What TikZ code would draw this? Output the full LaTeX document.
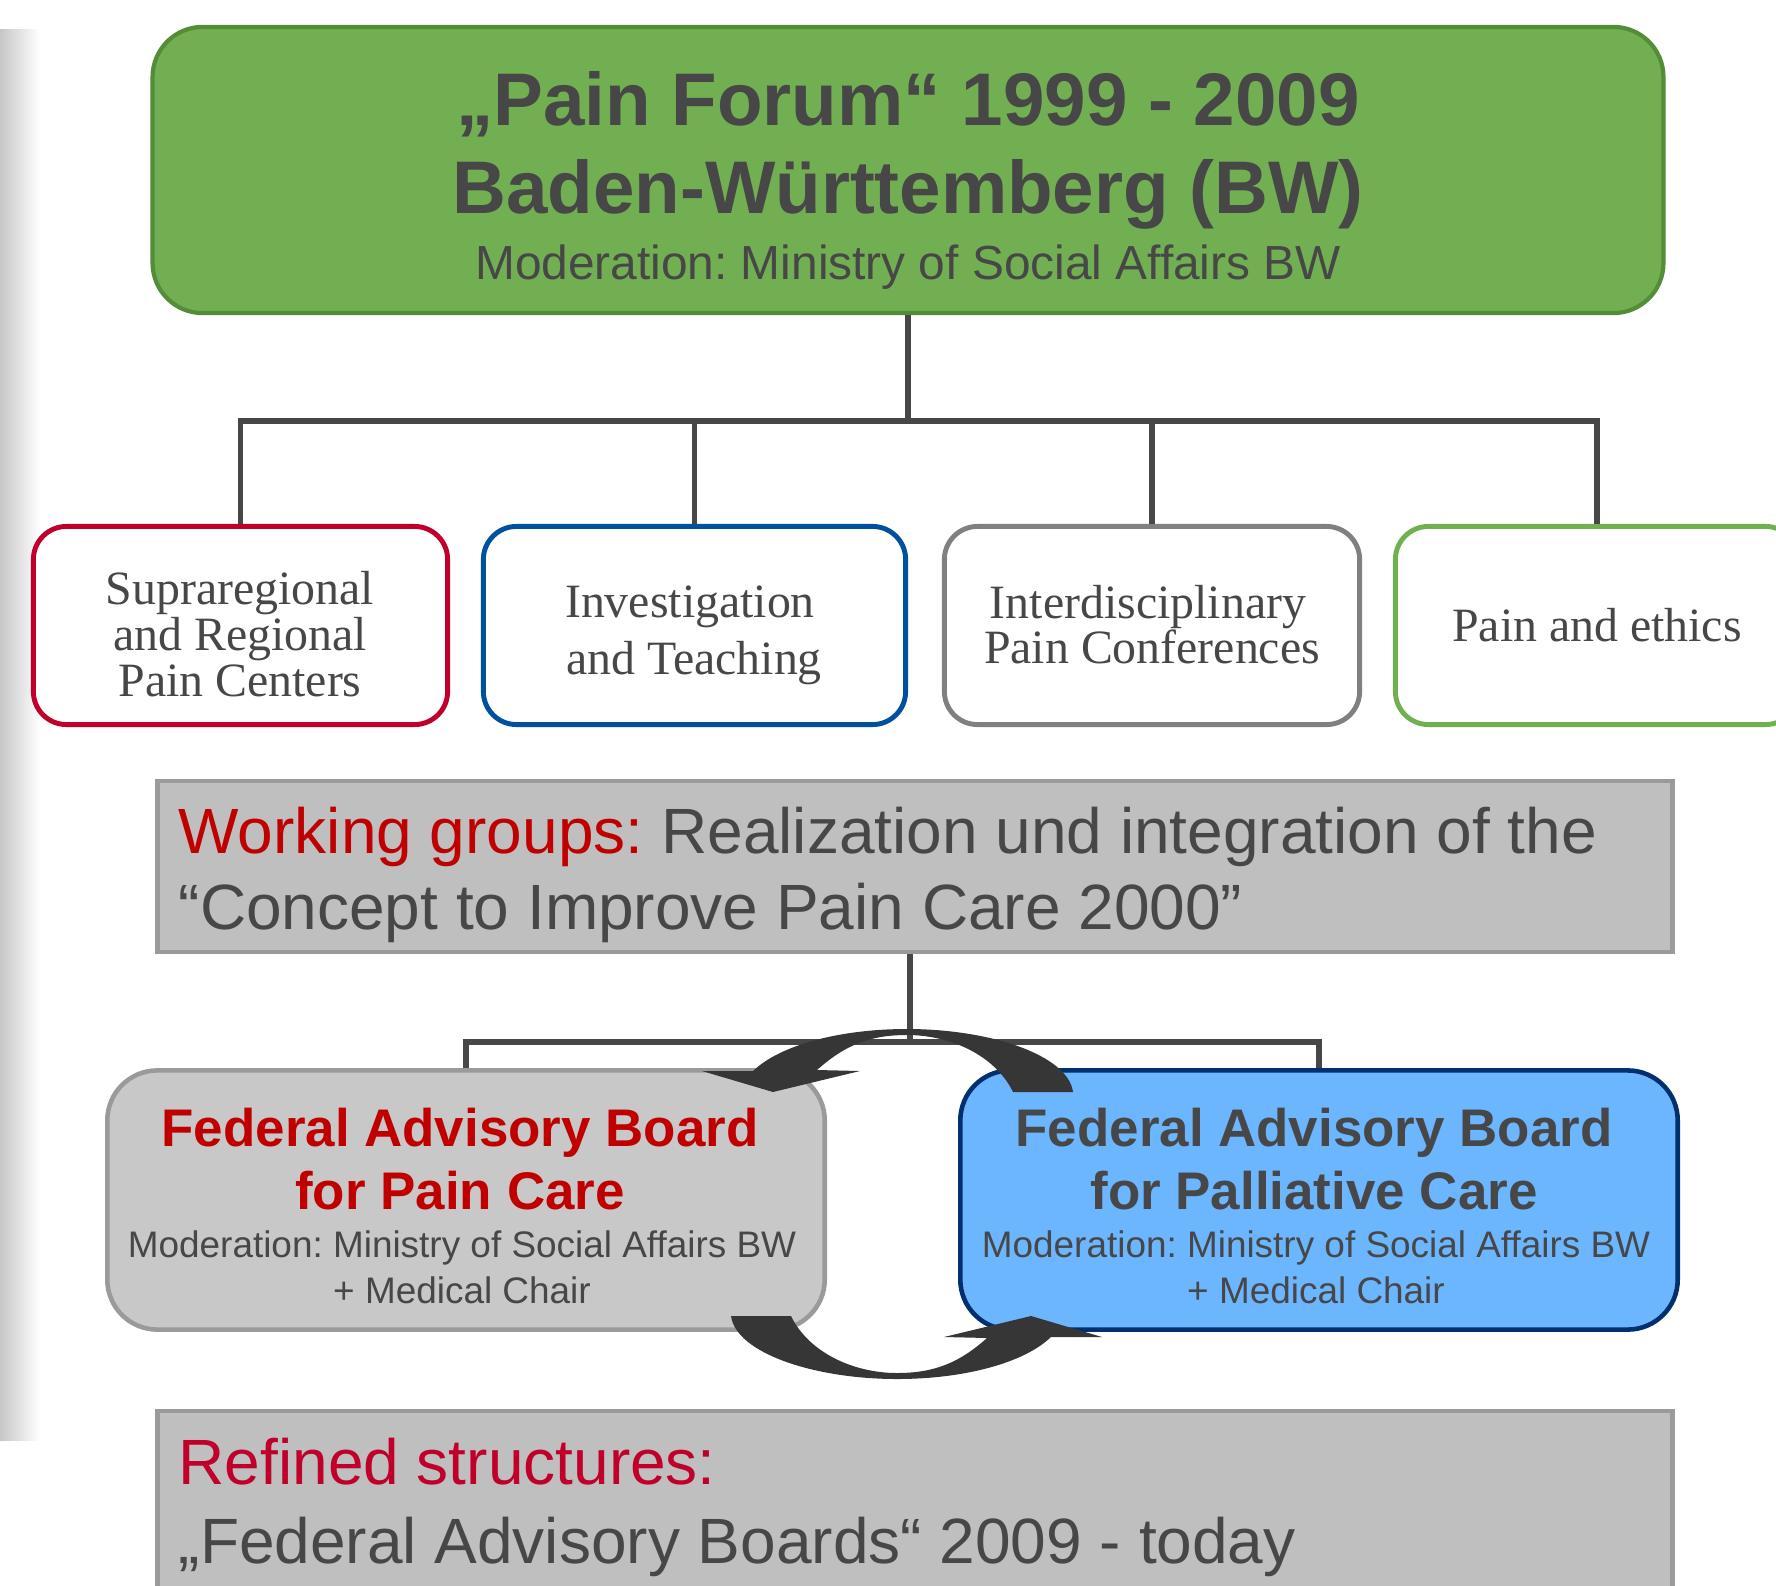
\documentclass[tikz,border=0pt]{standalone}
\usepackage{fontspec}
\setmainfont{Liberation Serif}
\setsansfont{Liberation Sans}
\newfontfamily\arialf{Liberation Sans}
\newfontfamily\timesf{Liberation Serif}
\frenchspacing
\definecolor{txt}{HTML}{474747}
\definecolor{conncol}{HTML}{474747}
\definecolor{topfill}{HTML}{72AE52}
\definecolor{topline}{HTML}{548C38}
\definecolor{redline}{HTML}{C0002A}
\definecolor{blueline}{HTML}{0050A0}
\definecolor{grayline}{HTML}{808080}
\definecolor{greenline}{HTML}{70B050}
\definecolor{gboxfill}{HTML}{BFBFBF}
\definecolor{gboxline}{HTML}{9A9A9A}
\definecolor{flfill}{HTML}{C8C8C8}
\definecolor{flline}{HTML}{9A9A9A}
\definecolor{frfill}{HTML}{6CB6FF}
\definecolor{frline}{HTML}{00306E}
\definecolor{redtxt}{HTML}{C00000}
\definecolor{redtxtb}{HTML}{C0002A}
\definecolor{arrowcol}{HTML}{363636}
\begin{document}
\begin{tikzpicture}[x=0.01cm,y=-0.01cm,
  conn/.style={draw=conncol,line width=1.45pt},
  sbox/.style={draw,line width=1.4pt,rounded corners=0.33cm,fill=white,inner sep=0pt,minimum height=1.98cm},
  fbox/.style={draw,line width=1.3pt,rounded corners=0.5cm,inner sep=0pt,minimum width=7.17cm,minimum height=2.59cm},
  gbox/.style={draw=gboxline,fill=gboxfill,line width=1.2pt,inner sep=0pt,minimum width=15.14cm},
  lbl/.style={text=txt,anchor=base,inner sep=0pt},
  serif/.style={lbl,font=\timesf\fontsize{13.6}{13.1}\selectfont},
  ttl/.style={lbl,font=\arialf\bfseries\fontsize{21.2}{25}\selectfont},
  tmod/.style={lbl,font=\arialf\fontsize{13.6}{16}\selectfont},
  wg/.style={lbl,anchor=base west,font=\arialf\fontsize{18.2}{22}\selectfont},
  fed/.style={lbl,font=\arialf\bfseries\fontsize{15.05}{18}\selectfont},
  fmod/.style={lbl,font=\arialf\fontsize{10.5}{12.6}\selectfont}]
\useasboundingbox (0,0) rectangle (1776,1585);
\clip (0,0) rectangle (1776,1585);
% left shadow
\shade[left color=black!22,right color=white] (0,30) rectangle (40,1440);
% top box
\node[draw=topline,fill=topfill,line width=1.2pt,rounded corners=0.5cm,inner sep=0pt,
  minimum width=15.1cm,minimum height=2.86cm] (top) at (908,170) {};
\node[ttl] (t1) at (908,126) {„Pain Forum“ 1999 - 2009};
\node[ttl] (t2) at (908,214) {Baden-Württemberg (BW)};
\node[tmod] (t3) at (908,279) {Moderation: Ministry of Social Affairs BW};
% four boxes
\node[sbox,draw=redline,minimum width=4.14cm] (b1) at (240.5,625.5) {};
\node[sbox,draw=blueline,minimum width=4.22cm] (b2) at (694.5,625.5) {};
\node[sbox,draw=grayline,minimum width=4.15cm] (b3) at (1152,625.5) {};
\node[sbox,draw=greenline,minimum width=4.03cm] (b4) at (1597,625.5) {};
\coordinate (hub) at (908,421);
\draw[conn] (top.south) -- (hub);
\draw[conn] (b1.north) |- (hub) -| (b4.north);
\draw[conn] (b2.north) -- (b2.north |- hub);
\draw[conn] (b3.north) -- (b3.north |- hub);
\node[serif] (s1) at (240,604) {Supraregional};
\node[serif] (s2) at (240,650) {and Regional};
\node[serif] (s3) at (240,696) {Pain Centers};
\node[serif] (i1) at (690,617) {Investigation};
\node[serif] (i2) at (694,674) {and Teaching};
\node[serif] (c1) at (1148,618) {Interdisciplinary};
\node[serif] (c2) at (1152,663) {Pain Conferences};
\node[serif] (e1) at (1597,641) {Pain and ethics};
% working groups
\node[gbox,minimum height=1.71cm] (work) at (915,866.5) {};
\node[wg] (w1) at (178,853) {\textcolor{redtxt}{Working groups:} Realization und integration of the};
\node[wg] (w2) at (178,929) {“Concept to Improve Pain Care 2000”};
% federal boards
\node[fbox,draw=flline,fill=flfill] (fl) at (466,1200) {};
\node[fbox,draw=frline,fill=frfill] (fr) at (1319,1200) {};
\coordinate (hub2) at (910,1042);
\draw[conn] (work.south -| hub2) -- (hub2);
\draw[conn] (fl.north) |- (hub2) -| (fr.north);
\node[fed,text=redtxt] (f1) at (460,1146) {Federal Advisory Board};
\node[fed,text=redtxt] (f2) at (460,1209) {for Pain Care};
\node[fmod] (f3) at (462,1257) {Moderation: Ministry of Social Affairs BW};
\node[fmod] (f4) at (462,1303) {+ Medical Chair};
\node[fed] (g1) at (1314,1146) {Federal Advisory Board};
\node[fed] (g2) at (1314,1209) {for Palliative Care};
\node[fmod] (g3) at (1316,1257) {Moderation: Ministry of Social Affairs BW};
\node[fmod] (g4) at (1316,1303) {+ Medical Chair};
% refined
\node[gbox,minimum height=1.9cm] (ref) at (915,1506) {};
\node[wg,text=redtxtb] (r1) at (178,1484) {Refined structures:};
\node[wg] (r2) at (178,1563) {„Federal Advisory Boards“ 2009 - today};
% curved arrows
\fill[arrowcol] (1073,1092) .. controls (1068,1055) and (990,1029) .. (907,1029)
  .. controls (840,1029) and (780,1045) .. (753,1071) -- (702,1071) -- (773,1092)
  -- (860,1071) -- (817,1070) .. controls (845,1045) and (870,1035) .. (907,1035)
  .. controls (950,1035) and (995,1055) .. (1013,1092) -- cycle;
\begin{scope}[rotate around={180:(902,1204)}]
\fill[arrowcol] (1073,1092) .. controls (1068,1055) and (990,1029) .. (907,1029)
  .. controls (840,1029) and (780,1045) .. (753,1071) -- (702,1071) -- (773,1092)
  -- (860,1071) -- (817,1070) .. controls (845,1045) and (870,1035) .. (907,1035)
  .. controls (950,1035) and (995,1055) .. (1013,1092) -- cycle;
\end{scope}
\end{tikzpicture}
\end{document}
